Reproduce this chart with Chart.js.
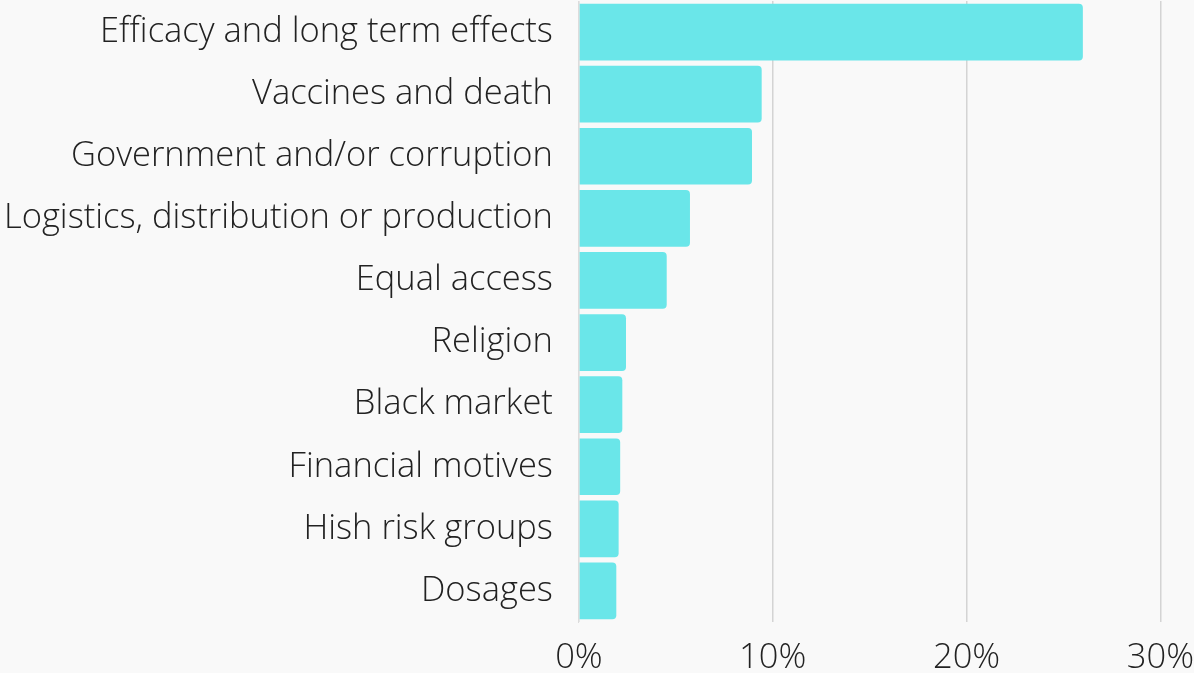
<!DOCTYPE html>
<html>
<head>
<meta charset="utf-8">
<script src="https://cdn.jsdelivr.net/npm/chart.js@4"></script>
<style>
  html, body { margin: 0; padding: 0; background: #f9f9f9; }
  #wrap { width: 1194px; height: 673px; }
</style>
</head>
<body>
<div id="wrap"><canvas id="topicsChart"></canvas></div>
<script>
const categories = [
  "Efficacy and long term effects",
  "Vaccines and death",
  "Government and/or corruption",
  "Logistics, distribution or production",
  "Equal access",
  "Religion",
  "Black market",
  "Financial motives",
  "Hish risk groups",
  "Dosages"
];
const shares = [26.0, 9.43, 8.93, 5.73, 4.53, 2.43, 2.24, 2.13, 2.05, 1.93];
const xTicks = [0, 10, 20, 30];

Chart.defaults.font.family = "'Open Sans', sans-serif";
Chart.defaults.font.weight = 300;
Chart.defaults.color = "#222";

const ctx = document.getElementById("topicsChart").getContext("2d");
new Chart(ctx, {
  type: "bar",
  data: {
    labels: categories,
    datasets: [{
      label: "Share",
      data: shares,
      backgroundColor: "#6ae6e9",
      borderRadius: 4,
      borderSkipped: "start",
      categoryPercentage: 1,
      barPercentage: 0.913
    }]
  },
  options: {
    indexAxis: "y",
    responsive: true,
    maintainAspectRatio: false,
    animation: false,
    layout: { padding: { left: 4, top: -2 } },
    plugins: { legend: { display: false }, tooltip: { enabled: false } },
    scales: {
      x: {
        min: 0,
        max: 30,
        afterBuildTicks: axis => { axis.ticks = xTicks.map(v => ({ value: v })); },
        // tick padding is counted twice by chart.js, so use invisible tick marks for the gap
        grid: { color: "#d4d4d4", lineWidth: 1.5, drawTicks: true, tickLength: 21, tickColor: "transparent" },
        border: { display: false },
        ticks: {
          font: { size: 34.5, weight: 300, lineHeight: "30px" },
          padding: 0,
          callback: v => v + "%"
        }
      },
      y: {
        grid: { drawOnChartArea: false, drawTicks: true, tickLength: 26, tickColor: "transparent" },
        border: { display: true, color: "#dcdcdc", width: 1 },
        // tiny line height so the labels don't push the plot down from the top edge
        ticks: { font: { size: 34.5, weight: 300, lineHeight: "2px" }, padding: 0 }
      }
    }
  }
});
</script>
</body>
</html>
